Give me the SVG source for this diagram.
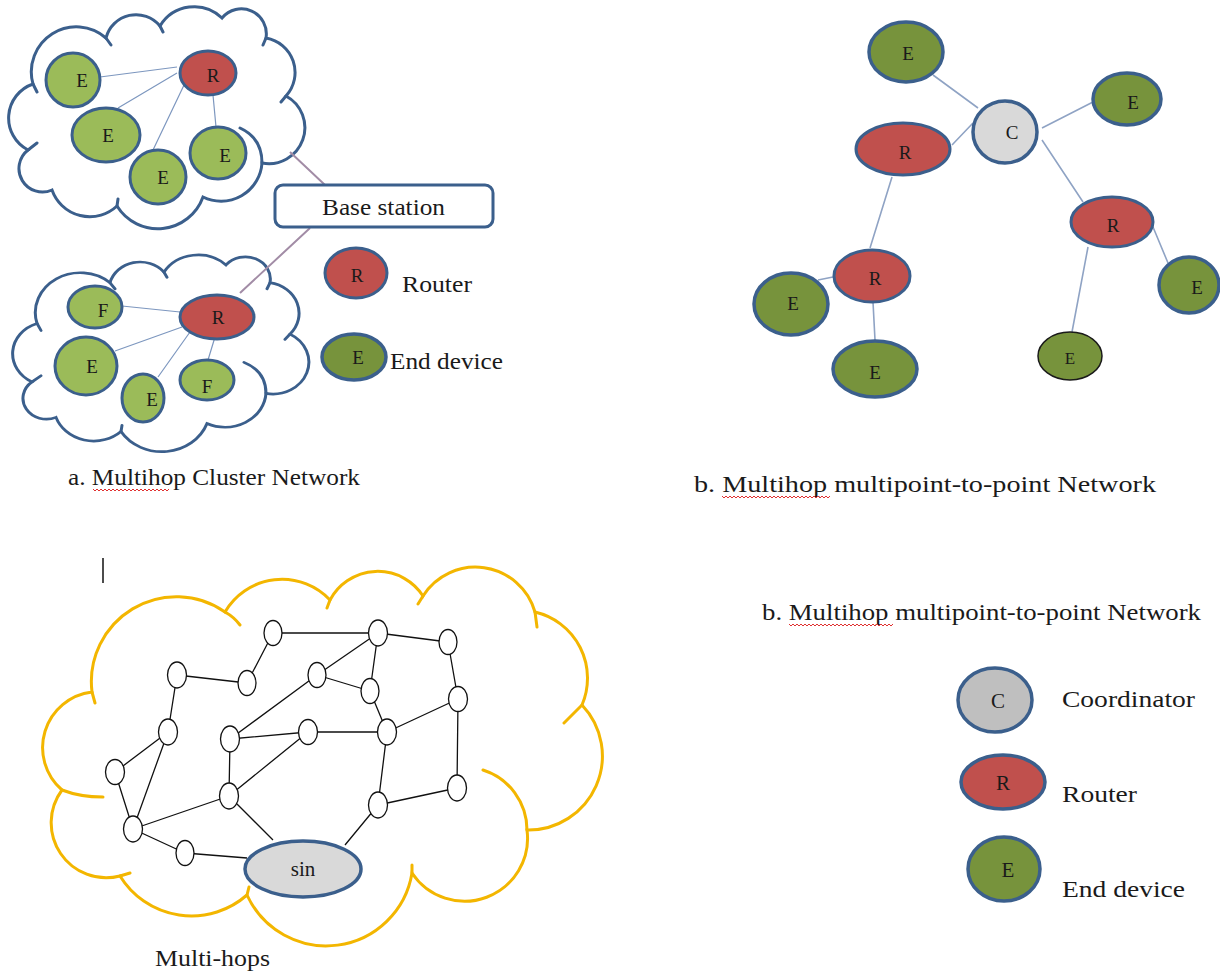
<svg xmlns="http://www.w3.org/2000/svg" width="1220" height="975" viewBox="0 0 1220 975">
<style>
text{font-family:"Liberation Serif","Times New Roman",serif;fill:#1a1a1a}
.lbl{font-size:19px;text-anchor:middle}
.big{font-size:23px}
.cloud{fill:#fff;stroke:#3b5f8c;stroke-width:3;vector-effect:non-scaling-stroke}
.tick{fill:none;stroke:#3b5f8c;stroke-width:3;stroke-linecap:round;vector-effect:non-scaling-stroke}
.ycloud{fill:#fff;stroke:#f3b600;stroke-width:3}
.ytick{fill:none;stroke:#f3b600;stroke-width:3;stroke-linecap:round}
.eL{fill:#9bbb59;stroke:#3b5f8c;stroke-width:3}
.eD{fill:#77933c;stroke:#3b5f8c;stroke-width:3.5}
.r{fill:#c0504d;stroke:#3b5f8c;stroke-width:3}
.c{fill:#d9d9d9;stroke:#3b5f8c;stroke-width:3.5}
.m{fill:#fff;stroke:#111;stroke-width:1.3}
.l1{stroke:#7d97bf;stroke-width:1.2;fill:none}
.l2{stroke:#8fa3c4;stroke-width:1.6;fill:none}
.lb{stroke:#a28ca6;stroke-width:2;fill:none}
.lk{stroke:#111;stroke-width:1.3;fill:none}
.sq{fill:none;stroke:#e03030;stroke-width:1}
</style>
<defs>
<path id="cloudShape" d="M28,150 A36 36 0 0 1 33,84 A45 45 0 0 1 106,38 A31 31 0 0 1 160,26 A40 40 0 0 1 222,18 A25 25 0 0 1 266,38 A35 35 0 0 1 286,96 A36 36 0 0 1 262,163 A41 41 0 0 1 203,197 A48 48 0 0 1 117,206 A40 40 0 0 1 52,190 A23.5 23.5 0 0 1 28,150 Z"/>
<path id="cloudTicks" d="M28,150 l9,-7 M33,84 l4,8 M106,38 l5,7 M160,26 l3,6 M266,38 l-3,7 M286,96 l-5,6 M117,206 l1,-7 M240,128 Q262,138 262,163"/>
</defs>

<!-- clouds -->
<g id="cloud-top">
<use href="#cloudShape" class="cloud"/>
<use href="#cloudTicks" class="tick"/>
</g>
<g id="cloud-bottom" transform="translate(4,249) scale(1,0.886)">
<use href="#cloudShape" class="cloud"/>
<use href="#cloudTicks" class="tick"/>
</g>
<g id="cloud-mesh">
<path class="ycloud" d="M92,692 A85 85 0 0 1 225,612 A66 66 0 0 1 330,600 A54 54 0 0 1 423,596 A62 62 0 0 1 535,612 A68 68 0 0 1 582,705 A74 74 0 0 1 527,830 A63 63 0 0 1 412,873 A87 87 0 0 1 247,895 A84 84 0 0 1 120,876 A55 55 0 0 1 62,790 A56 56 0 0 1 92,692 Z"/>
<path class="ytick" d="M92,692 l3,11 M62,790 Q80,797 103,797 M120,876 l10,-3 M225,612 Q234,617 240,625 M330,600 l-3,8 M423,596 l-5,8 M535,612 l2,15 M582,705 l-18,18 M483,770 A63 63 0 0 1 527,830 M412,873 l0,-8 M247,895 l2,-8"/>
</g>

<!-- connectors -->
<g id="connectors">
<path class="l1" d="M177,67 L100,77 M177,73 L118,108 M185,83 L153,150 M213,95 L216,127"/>
<path class="l1" d="M180,312 L122,306 M182,327 L115,351 M190,332 L158,377 M215,337 L208,360"/>
<path class="lb" d="M290,152 L325,185 M310,228 L240,293"/>
<path class="l2" d="M933,75 L978,108 M1042,128 L1093,102 M973,123 L952,145 M1042,140 L1083,202 M892,177 L870,248 M833,277 L818,280 M873,302 L875,340 M1088,247 L1072,332 M1153,227 L1168,263"/>
<path class="lk" d="M273,633 L378,633 M273,633 L247,683 M177,675 L247,683 M177,675 L168,732 M378,633 L448,642 M378,633 L317,675 M378,633 L370,691 M317,675 L370,691 M317,675 L230,739 M370,691 L387,732 M448,642 L458,699 M387,732 L458,699 M458,699 L457,788 M230,739 L308,732 M308,732 L387,732 M168,732 L115,772 M168,732 L133,829 M115,772 L133,829 M230,739 L229,796 M308,732 L229,796 M229,796 L133,829 M133,829 L185,853 M185,853 L247,858 M229,796 L273,840 M387,732 L378,805 M378,805 L457,788 M378,805 L345,845"/>
</g>

<!-- top cluster nodes -->
<g id="tc-e1"><ellipse class="eL" cx="73" cy="80" rx="27" ry="27"/><text class="lbl" x="82" y="87">E</text></g>
<g id="tc-r"><ellipse class="r" cx="208" cy="73" rx="28" ry="22"/><text class="lbl" x="213" y="82">R</text></g>
<g id="tc-e2"><ellipse class="eL" cx="106" cy="135" rx="34" ry="27"/><text class="lbl" x="108" y="142">E</text></g>
<g id="tc-e3"><ellipse class="eL" cx="158" cy="177" rx="28" ry="27"/><text class="lbl" x="163" y="184">E</text></g>
<g id="tc-e4"><ellipse class="eL" cx="218" cy="153" rx="28" ry="26"/><text class="lbl" x="225" y="162">E</text></g>

<!-- base station -->
<g id="base-station"><rect x="275" y="185" width="218" height="42" rx="8" fill="#fff" stroke="#3b5f8c" stroke-width="3"/><text class="big" x="322" y="215" textLength="123" lengthAdjust="spacingAndGlyphs">Base station</text></g>

<!-- bottom cluster nodes -->
<g id="bc-f1"><ellipse class="eL" cx="95" cy="307" rx="27" ry="21"/><text class="lbl" x="103" y="317">F</text></g>
<g id="bc-r"><ellipse class="r" cx="217" cy="317" rx="37" ry="22"/><text class="lbl" x="218" y="324">R</text></g>
<g id="bc-e1"><ellipse class="eL" cx="86" cy="366" rx="31" ry="29"/><text class="lbl" x="92" y="373">E</text></g>
<g id="bc-e2"><ellipse class="eL" cx="143" cy="398" rx="21" ry="24"/><text class="lbl" x="152" y="406">E</text></g>
<g id="bc-f2"><ellipse class="eL" cx="207" cy="380" rx="27" ry="20"/><text class="lbl" x="207" y="393">F</text></g>

<!-- top-left legend -->
<g id="legend-a-router"><ellipse class="r" cx="356" cy="273" rx="31" ry="25"/><text class="lbl" x="357" y="282">R</text><text class="big" x="402" y="292" textLength="70" lengthAdjust="spacingAndGlyphs">Router</text></g>
<g id="legend-a-end"><ellipse class="eD" cx="354" cy="357" rx="32" ry="23"/><text class="lbl" x="358" y="364">E</text><text class="big" x="390" y="369" textLength="113" lengthAdjust="spacingAndGlyphs">End device</text></g>

<g id="caption-a"><text class="big" x="68" y="485" textLength="292" lengthAdjust="spacingAndGlyphs">a. Multihop Cluster Network</text>
<path class="sq" d="M93,489 l2,2 l2,-2 l2,2 l2,-2 l2,2 l2,-2 l2,2 l2,-2 l2,2 l2,-2 l2,2 l2,-2 l2,2 l2,-2 l2,2 l2,-2 l2,2 l2,-2 l2,2 l2,-2 l2,2 l2,-2 l2,2 l2,-2 l2,2 l2,-2 l2,2 l2,-2 l2,2 l2,-2 l2,2 l2,-2 l2,2 l2,-2 l2,2 l2,-2 l2,2 l2,-2"/></g>

<!-- top-right tree -->
<g id="tr-e-top"><ellipse class="eD" cx="906" cy="52" rx="37" ry="30"/><text class="lbl" x="908" y="60">E</text></g>
<g id="tr-c"><ellipse class="c" cx="1005" cy="132" rx="32" ry="31"/><text class="lbl" x="1012" y="139">C</text></g>
<g id="tr-e-right"><ellipse class="eD" cx="1127" cy="99" rx="34" ry="26"/><text class="lbl" x="1133" y="109">E</text></g>
<g id="tr-r1"><ellipse class="r" cx="903" cy="149" rx="47" ry="26"/><text class="lbl" x="905" y="159">R</text></g>
<g id="tr-r2"><ellipse class="r" cx="1112" cy="222" rx="41" ry="25"/><text class="lbl" x="1113" y="232">R</text></g>
<g id="tr-r3"><ellipse class="r" cx="872" cy="276" rx="38" ry="26"/><text class="lbl" x="875" y="285">R</text></g>
<g id="tr-e-left"><ellipse class="eD" cx="791" cy="304" rx="37" ry="31"/><text class="lbl" x="793" y="310">E</text></g>
<g id="tr-e-bottom"><ellipse class="eD" cx="875" cy="369" rx="42" ry="28"/><text class="lbl" x="875" y="379">E</text></g>
<g id="tr-e-br"><ellipse cx="1070" cy="356" rx="32" ry="24" fill="#77933c" stroke="#1a1a1a" stroke-width="1.5"/><text class="lbl" x="1070" y="364" style="font-size:17px">E</text></g>
<g id="tr-e-fr"><ellipse class="eD" cx="1189" cy="285" rx="30" ry="28"/><text class="lbl" x="1197" y="294">E</text></g>

<g id="caption-b1"><text class="big" x="694" y="492" textLength="462" lengthAdjust="spacingAndGlyphs">b. Multihop multipoint-to-point Network</text>
<path class="sq" d="M722,496 l2,2 l2,-2 l2,2 l2,-2 l2,2 l2,-2 l2,2 l2,-2 l2,2 l2,-2 l2,2 l2,-2 l2,2 l2,-2 l2,2 l2,-2 l2,2 l2,-2 l2,2 l2,-2 l2,2 l2,-2 l2,2 l2,-2 l2,2 l2,-2 l2,2 l2,-2 l2,2 l2,-2 l2,2 l2,-2 l2,2 l2,-2 l2,2 l2,-2 l2,2 l2,-2 l2,2 l2,-2 l2,2 l2,-2 l2,2 l2,-2 l2,2 l2,-2 l2,2 l2,-2 l2,2 l2,-2 l2,2 l2,-2 l2,2 l2,-2"/></g>
<g id="caption-b2"><text class="big" x="762" y="620" textLength="439" lengthAdjust="spacingAndGlyphs">b. Multihop multipoint-to-point Network</text>
<path class="sq" d="M789,624 l2,2 l2,-2 l2,2 l2,-2 l2,2 l2,-2 l2,2 l2,-2 l2,2 l2,-2 l2,2 l2,-2 l2,2 l2,-2 l2,2 l2,-2 l2,2 l2,-2 l2,2 l2,-2 l2,2 l2,-2 l2,2 l2,-2 l2,2 l2,-2 l2,2 l2,-2 l2,2 l2,-2 l2,2 l2,-2 l2,2 l2,-2 l2,2 l2,-2 l2,2 l2,-2 l2,2 l2,-2 l2,2 l2,-2 l2,2 l2,-2 l2,2 l2,-2 l2,2 l2,-2 l2,2 l2,-2 l2,2 l2,-2"/></g>

<!-- mesh -->
<line x1="103" y1="558" x2="103" y2="583" stroke="#111" stroke-width="1.5"/>
<g id="mesh-nodes">
<ellipse class="m" cx="273" cy="633" rx="9" ry="12.5"/>
<ellipse class="m" cx="378" cy="633" rx="9.5" ry="13"/>
<ellipse class="m" cx="448" cy="642" rx="9" ry="12.5"/>
<ellipse class="m" cx="177" cy="675" rx="9.5" ry="13"/>
<ellipse class="m" cx="247" cy="683" rx="9" ry="12.5"/>
<ellipse class="m" cx="317" cy="675" rx="9" ry="12.5"/>
<ellipse class="m" cx="370" cy="691" rx="9" ry="12.5"/>
<ellipse class="m" cx="458" cy="699" rx="9.5" ry="12.5"/>
<ellipse class="m" cx="168" cy="732" rx="9.5" ry="13"/>
<ellipse class="m" cx="230" cy="739" rx="9.5" ry="13"/>
<ellipse class="m" cx="308" cy="732" rx="9.5" ry="12.5"/>
<ellipse class="m" cx="387" cy="732" rx="9.5" ry="13"/>
<ellipse class="m" cx="115" cy="772" rx="9.5" ry="12.5"/>
<ellipse class="m" cx="229" cy="796" rx="9.5" ry="13"/>
<ellipse class="m" cx="378" cy="805" rx="9.5" ry="13"/>
<ellipse class="m" cx="457" cy="788" rx="9.5" ry="13"/>
<ellipse class="m" cx="133" cy="829" rx="9.5" ry="13"/>
<ellipse class="m" cx="185" cy="853" rx="9" ry="12.5"/>
</g>
<g id="sink"><ellipse cx="303" cy="869" rx="58" ry="28" fill="#d9d9d9" stroke="#3b5f8c" stroke-width="3.5"/><text x="303" y="876" style="font-size:21px;text-anchor:middle">sin</text></g>
<text class="big" x="155" y="966" textLength="115" lengthAdjust="spacingAndGlyphs">Multi-hops</text>

<!-- bottom-right legend -->
<g id="legend-c"><ellipse cx="995" cy="700" rx="37" ry="32" fill="#bfbfbf" stroke="#3b5f8c" stroke-width="3.5"/><text class="lbl" x="998" y="708" style="font-size:21px">C</text><text class="big" x="1062" y="707" textLength="133" lengthAdjust="spacingAndGlyphs">Coordinator</text></g>
<g id="legend-r"><ellipse cx="1003" cy="782" rx="42" ry="27" fill="#c0504d" stroke="#3b5f8c" stroke-width="3.5"/><text class="lbl" x="1003" y="790" style="font-size:21px">R</text><text class="big" x="1062" y="802" textLength="75" lengthAdjust="spacingAndGlyphs">Router</text></g>
<g id="legend-e"><ellipse cx="1004" cy="869" rx="36" ry="32" fill="#77933c" stroke="#3b5f8c" stroke-width="3.5"/><text class="lbl" x="1008" y="877" style="font-size:21px">E</text><text class="big" x="1062" y="897" textLength="123" lengthAdjust="spacingAndGlyphs">End device</text></g>
</svg>
